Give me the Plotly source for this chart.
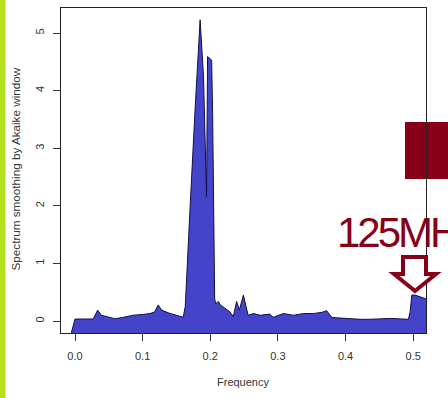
import plotly.graph_objects as go

# ---------------- data ----------------
freq = [0.000, 0.027, 0.0335, 0.039, 0.047, 0.059, 0.0715, 0.086, 0.101, 0.111,
        0.118, 0.123, 0.128, 0.1405, 0.150, 0.160, 0.163, 0.166, 0.170, 0.1775,
        0.185, 0.190, 0.192, 0.194, 0.1945, 0.196, 0.202, 0.2035, 0.2045, 0.2055,
        0.2065, 0.208, 0.212, 0.215, 0.222, 0.229, 0.234, 0.239, 0.243, 0.249,
        0.253, 0.256, 0.264, 0.274, 0.288, 0.293, 0.308, 0.323, 0.338, 0.3525,
        0.365, 0.372, 0.380, 0.392, 0.407, 0.4215, 0.436, 0.466, 0.493, 0.4955,
        0.498, 0.503, 0.520, 0.544]
spec = [0.035, 0.035, 0.19, 0.10, 0.075, 0.04, 0.064, 0.10, 0.115, 0.13,
        0.16, 0.28, 0.19, 0.13, 0.10, 0.065, 0.25, 0.89, 1.93, 3.66,
        5.23, 4.25, 3.37, 2.5, 2.16, 4.59, 4.53, 3.6, 1.93, 0.89,
        0.39, 0.30, 0.34, 0.28, 0.22, 0.16, 0.075, 0.34, 0.19, 0.45,
        0.25, 0.10, 0.13, 0.10, 0.12, 0.064, 0.13, 0.10, 0.13, 0.13,
        0.15, 0.18, 0.06, 0.05, 0.05, 0.03, 0.03, 0.045, 0.03, 0.16,
        0.45, 0.45, 0.38, 0.31]
poly_start = (-0.011, -0.45)   # lower-left corner of the drawn polygon
poly_floor = -0.45
x_ticks = [0.0, 0.1, 0.2, 0.3, 0.4, 0.5]
x_ticklabels = ["0.0", "0.1", "0.2", "0.3", "0.4", "0.5"]
y_ticks = [0, 1, 2, 3, 4, 5]
y_ticklabels = ["0", "1", "2", "3", "4", "5"]
x_range = [-0.0207, 0.519]
y_range = [-0.208, 5.434]
x_title = "Frequency"
y_title = "Spectrum smoothing by Akaike window"
note_text = "125MH"

# ---------------- layout geometry ----------------
W, H = 448, 398
L, R, T, B = 61, 426, 8, 333
PW, PH = R - L, B - T

def px(xp):
    return (xp - L) / PW

def py(yp):
    return (B - yp) / PH

RED = "#870018"
BLUE = "#4444CA"
SANS = "Liberation Sans, Arial, sans-serif"

poly_x = [poly_start[0]] + freq + [freq[-1], poly_start[0]]
poly_y = [poly_start[1]] + spec + [poly_floor, poly_floor]

fig = go.Figure()
fig.add_trace(go.Scatter(
    x=poly_x, y=poly_y, mode="lines", fill="toself",
    fillcolor=BLUE, line=dict(color="#10104a", width=1),
    hoverinfo="skip", showlegend=False))

axis_common = dict(
    showgrid=False, zeroline=False, showline=True, mirror=True,
    linecolor="#222", linewidth=1, ticks="outside", ticklen=7,
    tickcolor="#333", tickwidth=1,
    tickfont=dict(family=SANS, size=11, color="#333"),
)

fig.update_xaxes(range=x_range, tickvals=x_ticks, ticktext=x_ticklabels,
                 ticklabelstandoff=6, **axis_common)
fig.update_yaxes(range=y_range, tickvals=y_ticks, ticktext=y_ticklabels,
                 tickangle=-90, ticklabelstandoff=5, **axis_common)

shapes = [
    # lime strip at left
    dict(type="rect", xref="paper", yref="paper",
         x0=px(0), x1=px(5.5), y0=py(H + 2), y1=py(-2),
         fillcolor="#B4E11E", line=dict(width=0), layer="below"),
    # dark red box
    dict(type="path", xref="paper", yref="paper", layer="below",
         path=("M {a},{b} L {c},{b} L {c},{d} L {a},{d} Z").format(
             a=px(406), b=py(123), c=px(450), d=py(178)),
         fillcolor=RED, line=dict(color=RED, width=2)),
    # outlined down arrow
    dict(type="path", xref="paper", yref="paper", layer="above",
         path=("M {x1},{y1} L {x2},{y1} L {x2},{y2} L {x3},{y2} L {x4},{y3} "
               "L {x5},{y2} L {x1},{y2} Z").format(
             x1=px(403), x2=px(426), x3=px(436), x4=px(415), x5=px(394),
             y1=py(257), y2=py(274), y3=py(291)),
         fillcolor="white", line=dict(color=RED, width=4)),
]

annotations = [
    dict(text=x_title, xref="paper", yref="paper", x=px(243), y=py(382),
         xanchor="center", yanchor="middle", showarrow=False,
         font=dict(family=SANS, size=11, color="#333")),
    dict(text=y_title, xref="paper", yref="paper", x=px(15), y=py(169.5),
         xanchor="center", yanchor="middle", showarrow=False, textangle=-90,
         font=dict(family=SANS, size=11.7, color="#333")),
    dict(text='<span style="letter-spacing:-3px">' + note_text + '</span>',
         xref="paper", yref="paper", x=px(335), y=py(232),
         xanchor="left", yanchor="middle", showarrow=False,
         font=dict(family=SANS, size=42, color=RED)),
]

fig.update_layout(
    width=W, height=H,
    margin=dict(l=L, r=W - R, t=T, b=H - B, pad=0),
    paper_bgcolor="white", plot_bgcolor="rgba(0,0,0,0)",
    shapes=shapes, annotations=annotations, showlegend=False,
)

fig.write_html("out.html")
